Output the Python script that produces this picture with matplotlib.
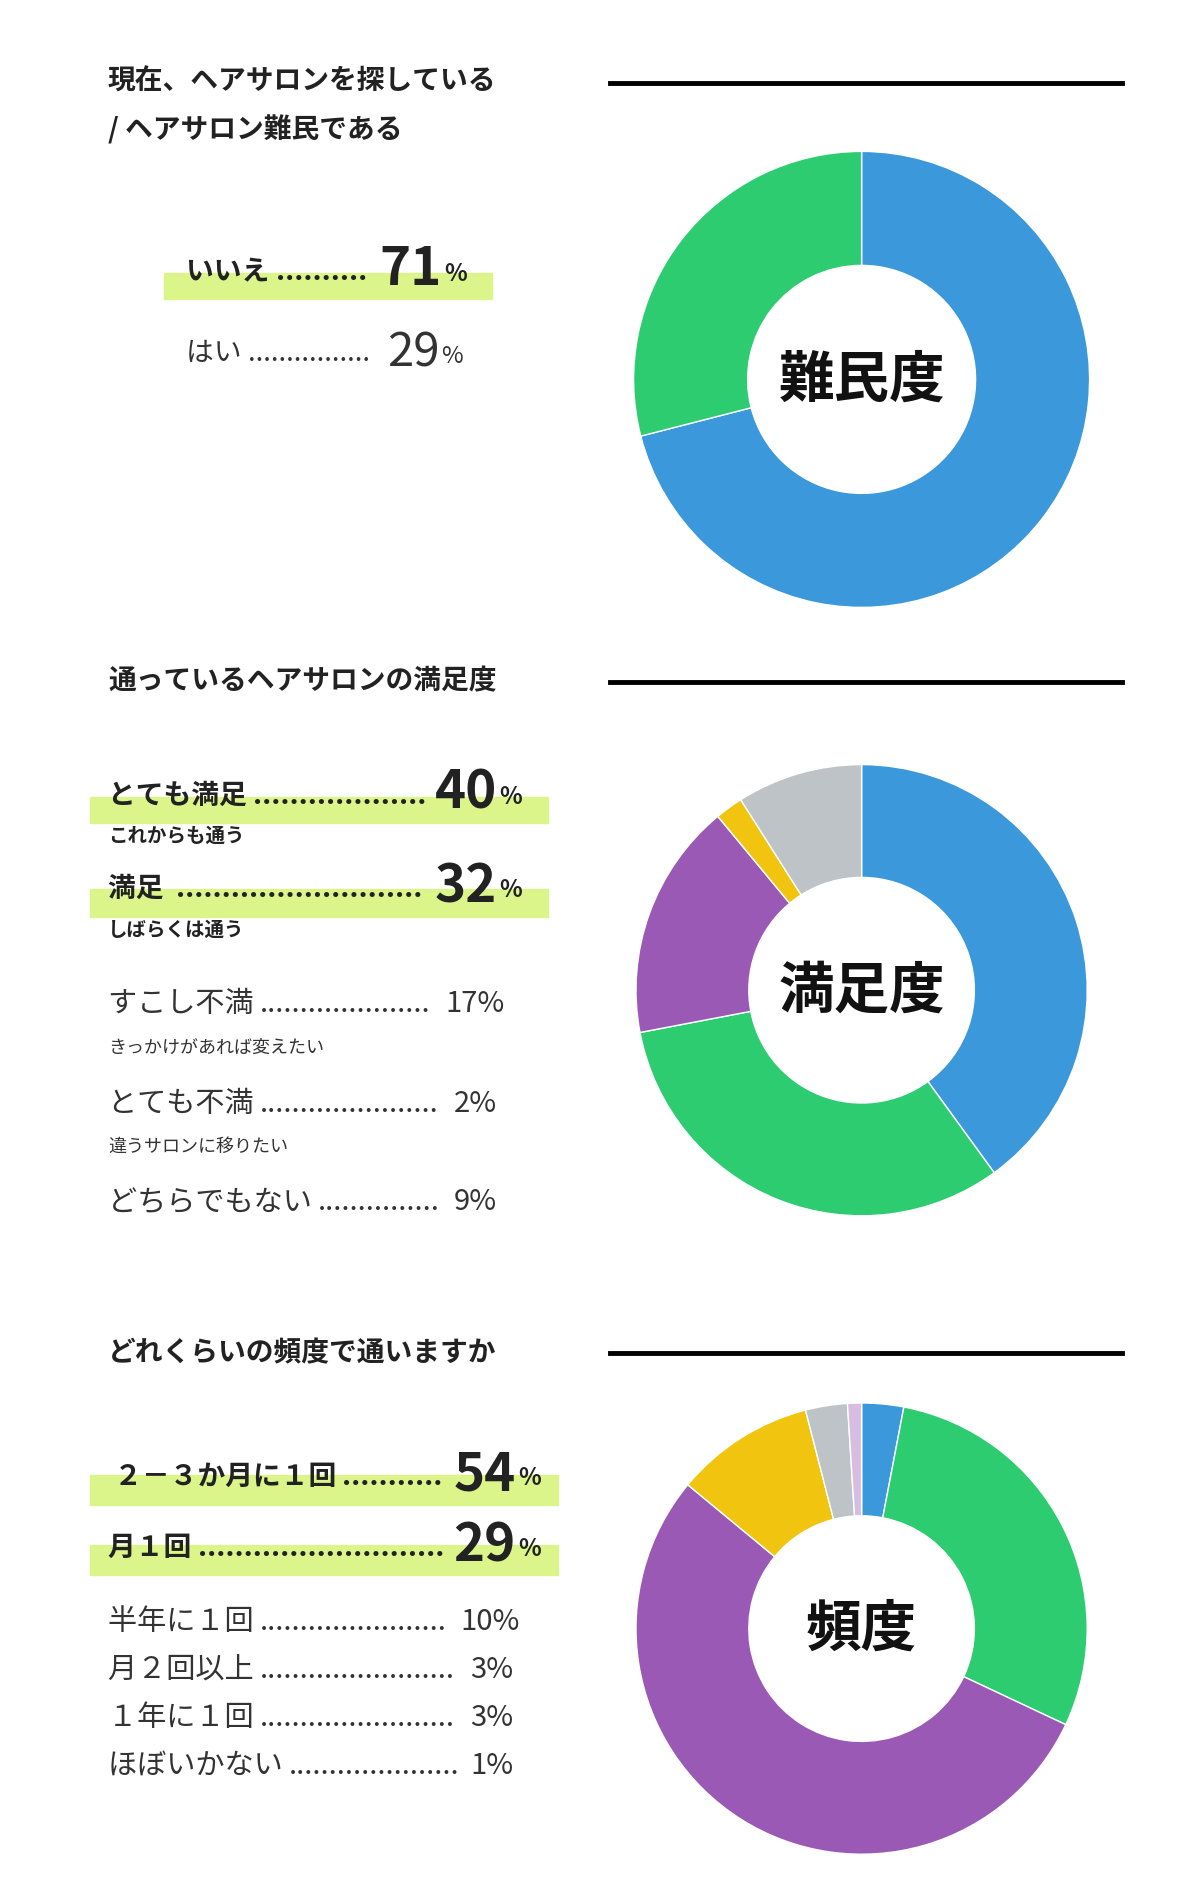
import matplotlib
matplotlib.use("Agg")
import matplotlib.pyplot as plt
from matplotlib.patches import Rectangle

plt.rcParams["font.family"] = "Noto Sans CJK JP"

W, H = 1000.0, 1575.0  # reference layout units

nanmin_labels = ["いいえ", "はい"]
nanmin_values = [71, 29]
nanmin_colors = ["#3a98db", "#2ecc71"]

manzoku_labels = ["とても満足", "満足", "すこし不満", "とても不満", "どちらでもない"]
manzoku_subs = ["これからも通う", "しばらくは通う", "きっかけがあれば変えたい", "違うサロンに移りたい", ""]
manzoku_values = [40, 32, 17, 2, 9]
manzoku_colors = ["#3a98db", "#2ecc71", "#9b59b6", "#f1c40f", "#bdc3c7"]

hindo_labels = ["２－３か月に１回", "月１回", "半年に１回", "月２回以上", "１年に１回", "ほぼいかない"]
hindo_values = [54, 29, 10, 3, 3, 1]
# pie order clockwise from top
hindo_pie_order = [3, 1, 0, 2, 4, 5]
hindo_colors = ["#3a98db", "#2ecc71", "#9b59b6", "#f1c40f", "#bdc3c7", "#d7bde2"]

fig = plt.figure(figsize=(12, 18.9), dpi=100)
renderer = fig.canvas.get_renderer()


def fx(x):
    return x / W


def fy(y):
    return 1 - y / H


def txt(x, y, s, size, weight="normal", ha="left", color="#222222"):
    return fig.text(fx(x), fy(y), s, fontsize=size, fontweight=weight, ha=ha, va="center", color=color)


def dotted(x, x_end, y, label, size, weight="normal", color="#222222"):
    # label followed by dots filling up to x_end (reference units)
    t = txt(x, y, label + " ", size, weight, color=color)
    right = t.get_window_extent(renderer).x1 / fig.bbox.width * W
    d = txt(0, y, ".", size, weight, color=color)
    dw = d.get_window_extent(renderer).width / fig.bbox.width * W
    d.remove()
    n = max(int((x_end - right) / dw), 1)
    txt(right, y, "." * n, size, weight, color=color)


def highlight(x0, x1, y0, y1):
    fig.patches.append(Rectangle((fx(x0), fy(y1)), fx(x1) - fx(x0), (y1 - y0) / H,
                                 transform=fig.transFigure, color="#dcf58a", zorder=0))


def section_title(lines, y, line_y):
    for i, l in enumerate(lines):
        txt(90, y + i * 40, l, 20, "bold")
    fig.add_artist(plt.Line2D([fx(508), fx(935)], [fy(line_y), fy(line_y)], color="black", lw=3.5))


def donut(cx, cy, r, values, colors, label):
    ax = fig.add_axes([fx(cx - r), fy(cy + r), 2 * r / W, 2 * r / H])
    ax.pie(values, colors=colors, startangle=90, counterclock=False,
           wedgeprops=dict(width=0.5, edgecolor="white", linewidth=1))
    ax.set_xlim(-1, 1)
    ax.set_ylim(-1, 1)
    ax.set_aspect("equal")
    ax.text(0, 0, label, fontsize=40, fontweight="bold", ha="center", va="center", color="#111111")


def big_row(y, label, value, x_num, x0=90):
    dotted(x0, x_num - 58, y, label, 20, "bold")
    txt(x_num, y - 2, str(value), 38, "bold", ha="right")
    txt(x_num + 2, y + 1, "%", 17, "bold")


# section 1
section_title(["現在、ヘアサロンを探している", "/ ヘアサロン難民である"], 68, 70)
highlight(137, 410, 228, 250)
big_row(227, nanmin_labels[0], nanmin_values[0], 368, x0=155)
dotted(155, 310, 294, nanmin_labels[1], 20, color="#333333")
txt(366, 294, str(nanmin_values[1]), 34, ha="right", color="#333333")
txt(368, 297, "%", 17, color="#333333")
donut(718, 317, 190, nanmin_values, nanmin_colors, "難民度")

# section 2
section_title(["通っているヘアサロンの満足度"], 568, 569)
highlight(75, 457, 665, 687)
highlight(75, 457, 742, 765)
big_row(663, manzoku_labels[0], manzoku_values[0], 414)
txt(90, 697, manzoku_subs[0], 14, "bold")
big_row(741, manzoku_labels[1] + " ", manzoku_values[1], 414)
txt(90, 775, manzoku_subs[1], 14, "bold")
rows = [(837, 873, 2, 365), (920, 956, 3, 372), (1002, None, 4, 372)]
for y, ys, i, xe in rows:
    dotted(90, xe, y, manzoku_labels[i], 21, color="#333333")
    txt(xe + 6, y, str(manzoku_values[i]) + "%", 21, color="#333333")
    if ys:
        txt(90, ys, manzoku_subs[i], 13, color="#333333")
donut(718, 826, 188, manzoku_values, manzoku_colors, "満足度")

# section 3
section_title(["どれくらいの頻度で通いますか"], 1128, 1128)
highlight(75, 465, 1230, 1255)
highlight(75, 465, 1288, 1313)
big_row(1231, " " + hindo_labels[0], hindo_values[0], 430)
big_row(1290, hindo_labels[1], hindo_values[1], 430)
ends = [378, 386, 386, 386]
for i in range(4):
    dotted(90, ends[i], 1352 + 40 * i, hindo_labels[i + 2], 21, color="#333333")
    txt(ends[i] + 6, 1352 + 40 * i, str(hindo_values[i + 2]) + "%", 21, color="#333333")
donut(718, 1358, 188, [hindo_values[i] for i in hindo_pie_order], hindo_colors, "頻度")

fig.savefig("out.png", dpi=100, facecolor="white")
